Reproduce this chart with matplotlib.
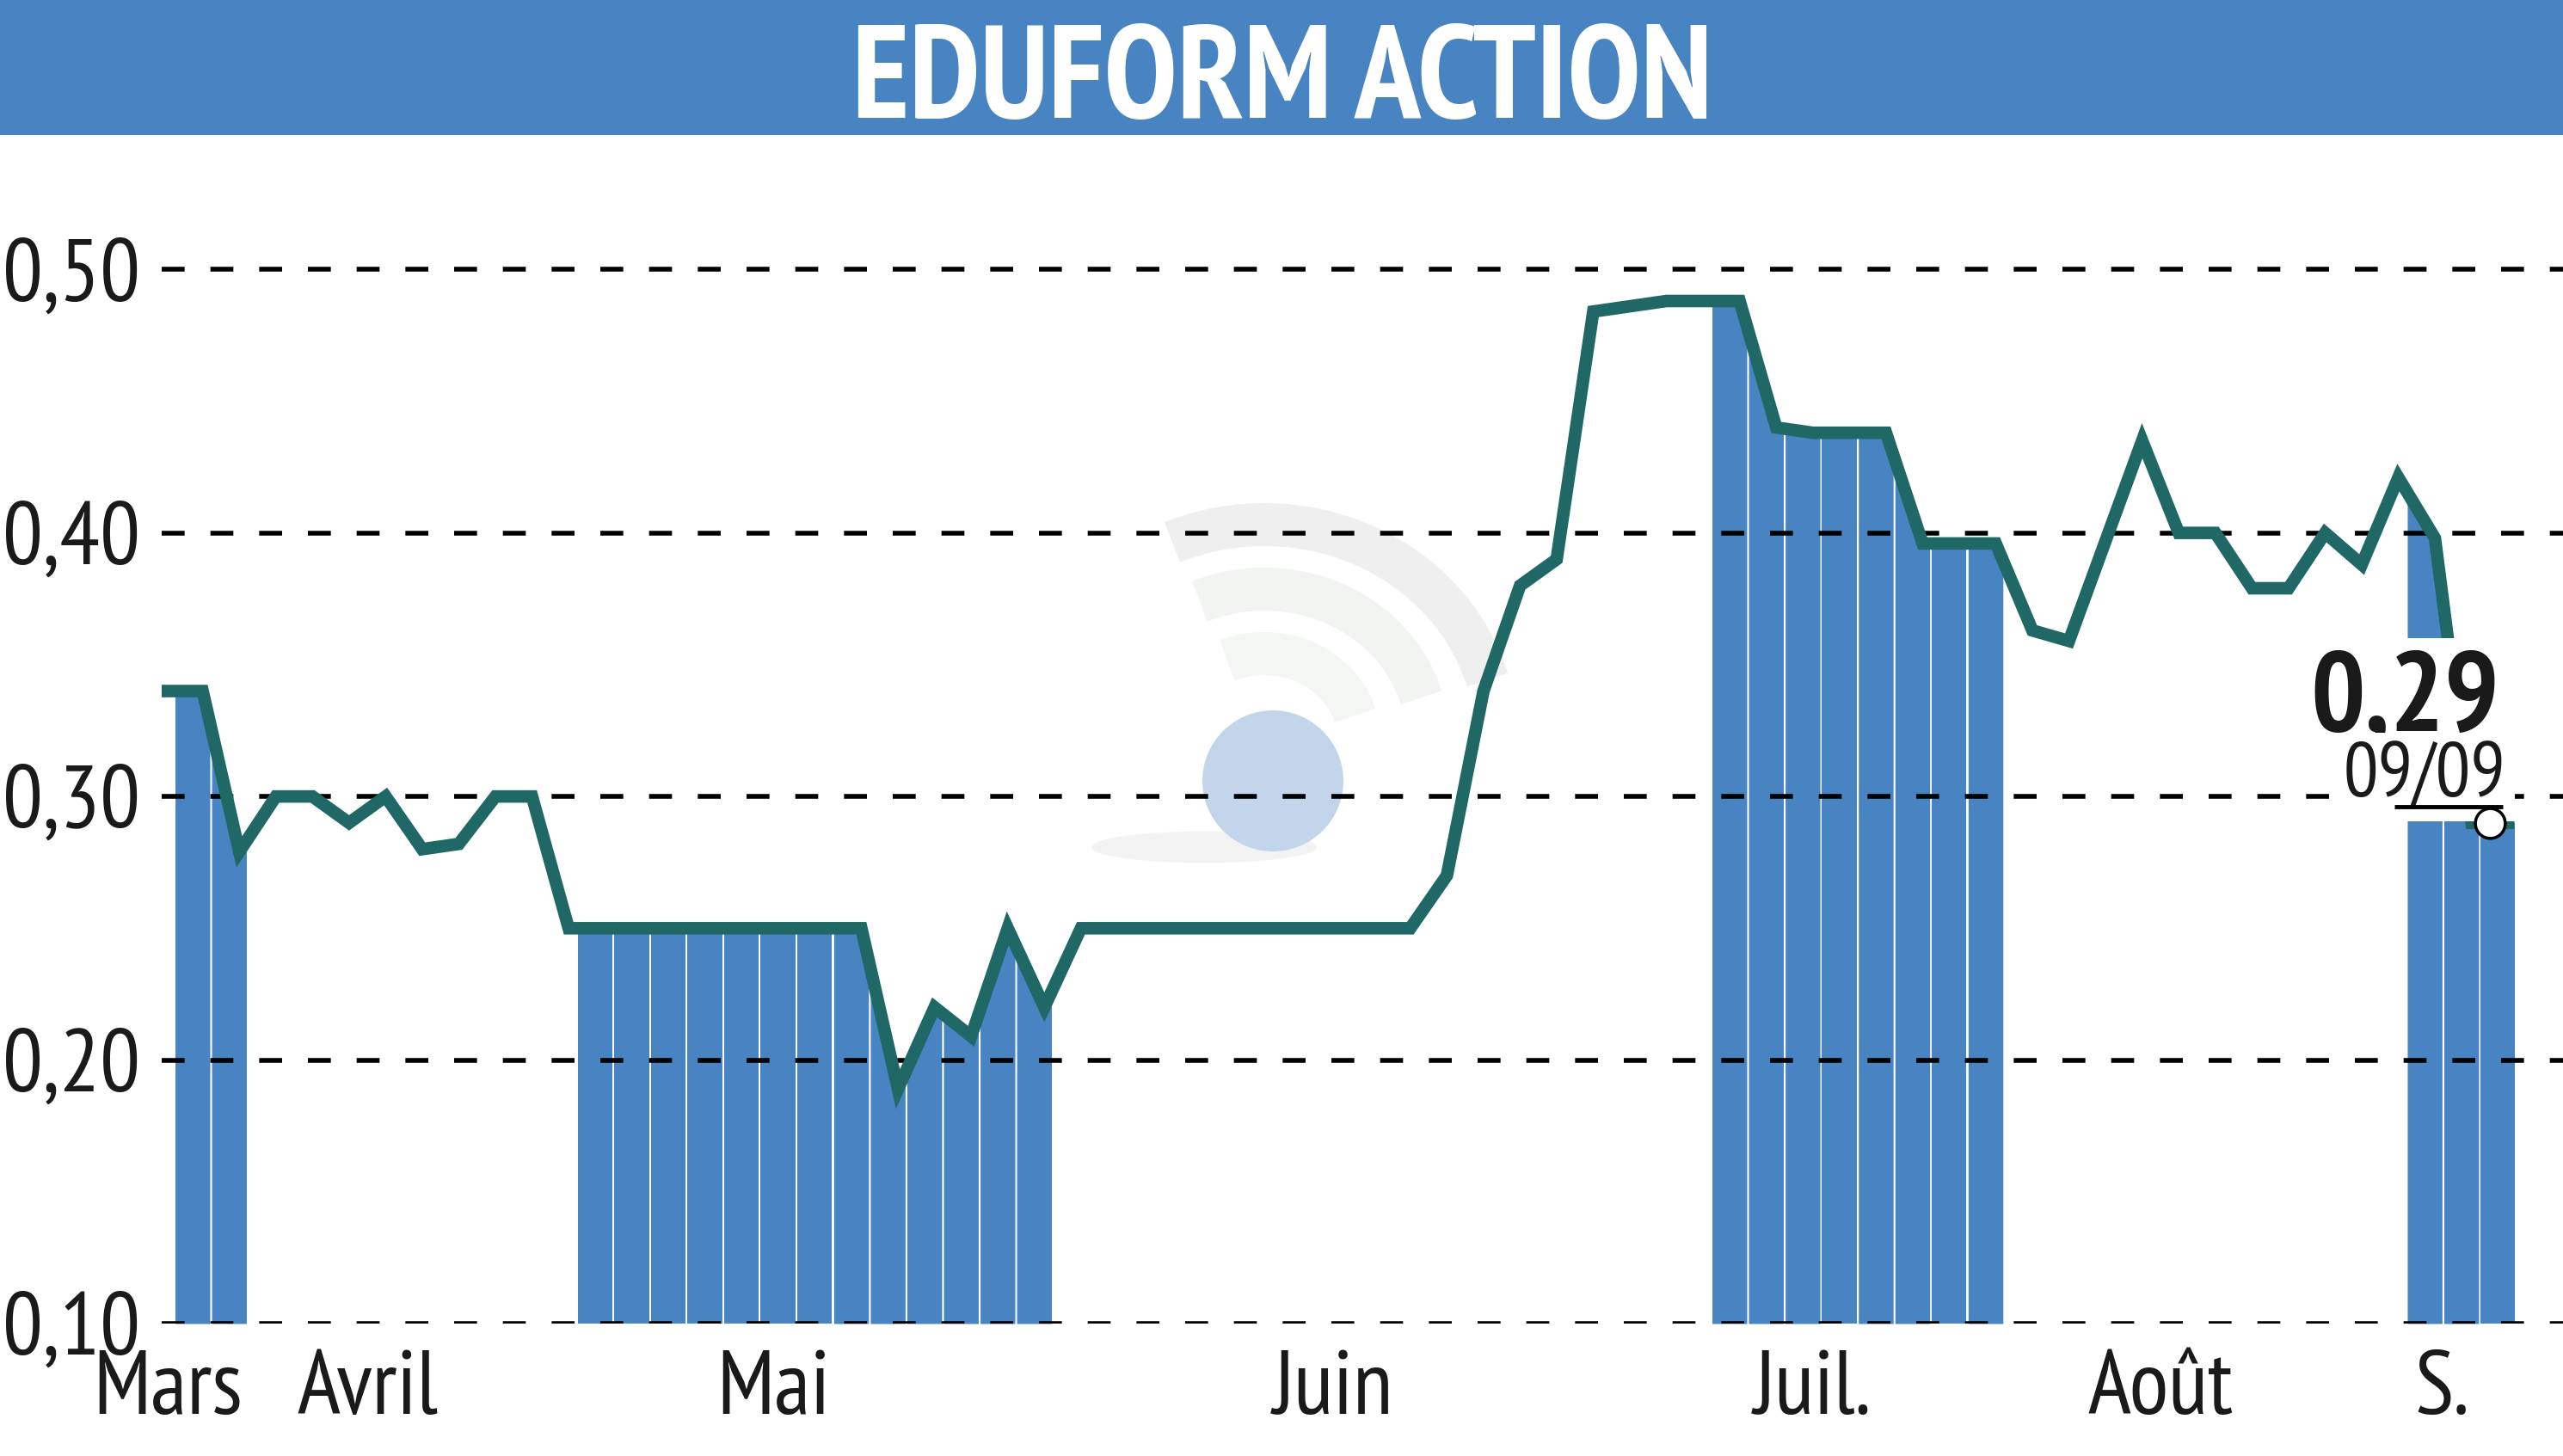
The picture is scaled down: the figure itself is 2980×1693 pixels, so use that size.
import numpy as np
import matplotlib
matplotlib.use('Agg')
import matplotlib.pyplot as plt
from matplotlib.patches import Rectangle, Circle, Arc, Ellipse

plt.rcParams['font.family'] = ['PT Sans Narrow', 'DejaVu Sans']

# --- données ---
title = 'EDUFORM ACTION'
# cours de clôture, un point par séance
price = [0.34, 0.34, 0.279, 0.30, 0.30, 0.29, 0.30, 0.28, 0.282, 0.30, 0.30,
         0.25, 0.25, 0.25, 0.25, 0.25, 0.25, 0.25, 0.25, 0.25,
         0.189, 0.22, 0.209, 0.25, 0.22, 0.25,
         0.25, 0.25, 0.25, 0.25, 0.25, 0.25, 0.25, 0.25, 0.25,
         0.27, 0.34, 0.38, 0.39, 0.484, 0.486, 0.488, 0.488, 0.488,
         0.44, 0.438, 0.438, 0.438, 0.396, 0.396, 0.396, 0.363, 0.359,
         0.397, 0.435, 0.40, 0.40, 0.379, 0.379, 0.40, 0.388, 0.421, 0.398,
         0.29, 0.29]
# séances avec des échanges (barres bleues)
traded = [1, 2,
          12, 13, 14, 15, 16, 17, 18, 19, 20, 21, 22, 23, 24,
          43, 44, 45, 46, 47, 48, 49, 50,
          62, 63, 64]
month_pos = [0.06, 5.5, 16.6, 31.9, 45.0, 54.5, 62.2]
month_labels = ['Mars', 'Avril', 'Mai', 'Juin', 'Juil.', 'Août', 'S.']
y_ticks = [0.10, 0.20, 0.30, 0.40, 0.50]
last_date = '09/09'

blue = '#4884c2'
teal = '#1f6865'
W, H = 2980, 1693

fig = plt.figure(figsize=(W / 100, H / 100), dpi=100)
fig.patch.set_facecolor('white')

# bandeau du titre
fig.add_artist(Rectangle((0, 1 - 157 / H), 1, 157 / H, transform=fig.transFigure,
                         facecolor=blue, edgecolor='none'))
fig.text(0.5003, (H - 137) / H, title, ha='center', va='baseline', color='white',
         fontsize=111, fontweight='bold')

ax = fig.add_axes([188 / W, (H - 1539) / H, 1 - 188 / W, (1539 - 160) / H])
x = np.arange(len(price))

# filigrane (logo)
px = fig.dpi_scale_trans
def P(xp, yp):
    return (xp / 100, (H - yp) / 100)
for rx, ry, c in [(270, 250, '#eeefee'), (190, 175, '#f2f4f2'), (110, 100, '#f4f6f4')]:
    ax.add_patch(Arc(P(1470, 860), 2 * rx / 100, 2 * ry / 100, theta1=15, theta2=115,
                     transform=px, color=c, lw=36, zorder=0.5, clip_on=False))
ax.add_patch(Ellipse(P(1400, 985), 2.6, 0.35, transform=px, color='#f3f3f3',
                     zorder=0.5, clip_on=False))
ax.add_patch(Circle(P(1480, 908), 0.82, transform=px, facecolor='#c2d5eb',
                    edgecolor='none', zorder=0.6, clip_on=False))

# barres : surface sous la courbe pour chaque séance échangée
g = 0.025
for i in traded:
    xs = np.linspace(i - 0.78 + g, i + 0.22 - g, 40)
    ys = np.interp(xs, x, price)
    ax.fill_between(xs, y_ticks[0], ys, color=blue, linewidth=0, zorder=1)

# grille pointillée
for t in y_ticks:
    ax.axhline(t, color='black', lw=4.0, dashes=(4.8, 5.4), zorder=2)

ax.plot(x, price, color=teal, lw=10.5, solid_capstyle='projecting',
        solid_joinstyle='miter', zorder=3)

ax.set_xlim(-0.12, 65.5)
ax.set_ylim(0.10, 0.55)
ax.set_yticks(y_ticks)
ax.set_yticklabels([f'{t:.2f}'.replace('.', ',') for t in y_ticks], fontsize=75)
ax.set_xticks(month_pos)
ax.set_xticklabels(month_labels, fontsize=76)
ax.tick_params(axis='both', length=0, colors='#1a1a1a')
ax.tick_params(axis='y', pad=18)
ax.tick_params(axis='x', pad=22)
for s in ax.spines.values():
    s.set_visible(False)

# dernier cours
xl, yl = x[-1], price[-1]
box = dict(boxstyle='square,pad=0.12', facecolor='white', edgecolor='none')
ax.annotate(f'{yl:.2f}'.replace('.', ','), (xl, yl), xytext=(-7, 77),
            textcoords='offset points', ha='right', va='baseline',
            fontsize=96, fontweight='bold', color='#1a1a1a', bbox=box, zorder=5)
ax.annotate(last_date, (xl, yl), xytext=(-2, 22), textcoords='offset points',
            ha='right', va='baseline', fontsize=65, color='#1a1a1a', bbox=box, zorder=6)
ax.plot([xl - 3.1, xl - 0.15], [yl + 0.0062, yl + 0.0062], color='black', lw=3.5,
        solid_capstyle='butt', zorder=7)
ax.plot([xl - 0.5], [yl], marker='o', ms=25, mfc='white', mec='black', mew=2.5,
        zorder=8, clip_on=False)

fig.savefig('out.png', dpi=100, facecolor='white')
